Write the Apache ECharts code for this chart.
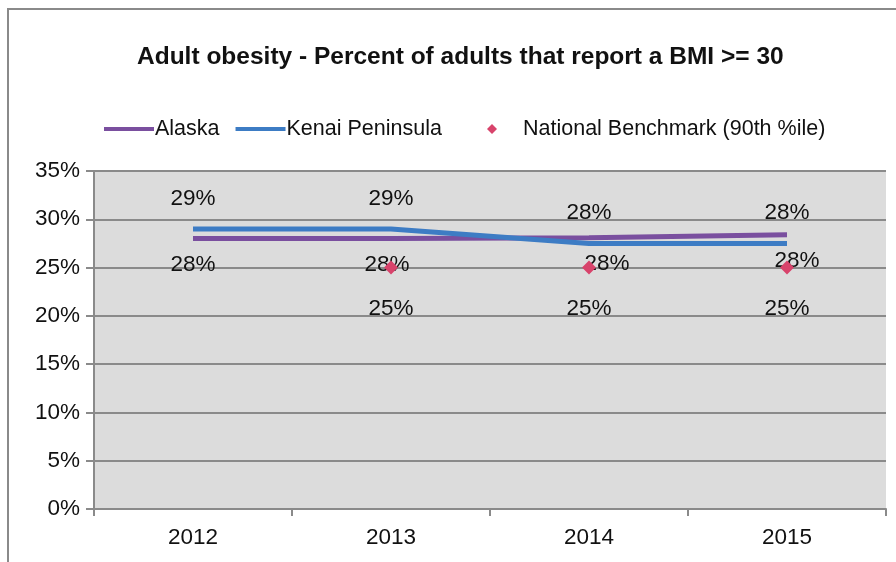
<!DOCTYPE html>
<html>
<head>
<meta charset="utf-8">
<script src="https://cdn.jsdelivr.net/npm/echarts@6/dist/echarts.min.js"></script>
<style>
  html, body { margin: 0; padding: 0; background: #ffffff; }
  #chart { width: 896px; height: 562px; }
</style>
</head>
<body>
<div id="chart"></div>
<script>
// Adult obesity rates by year
const years = ['2012', '2013', '2014', '2015'];
const alaska = [28.0, 28.0, 28.1, 28.4];
const kenai = [29.0, 29.0, 27.5, 27.5];
const benchmark = [null, 25, 25, 25];
const yTicks = { min: 0, max: 35, step: 5 };

// horizontal nudges for the Alaska value labels
const alaskaLabelShift = [0, -4, 18, 10];

const FONT = 'Liberation Sans, Arial, sans-serif';
const pct = v => Math.round(v) + '%';

const chart = echarts.init(document.getElementById('chart'), null, { renderer: 'canvas' });

chart.setOption({
  animation: false,
  backgroundColor: '#ffffff',
  title: {
    text: 'Adult obesity - Percent of adults that report a BMI >= 30',
    left: 132,
    top: 40,
    textStyle: { fontFamily: FONT, fontWeight: 'bold', fontSize: 24.5, color: '#111' }
  },
  graphic: [
    { type: 'polyline', shape: { points: [[8, 562], [8, 9], [896, 9]] }, style: { stroke: '#8a8a8a', lineWidth: 2, fill: null }, z: 10 }
  ],
  legend: [
    {
      data: ['Alaska', 'Kenai Peninsula'],
      left: 99, top: 113,
      icon: 'rect',
      itemWidth: 50, itemHeight: 4, itemGap: 16,
      textStyle: { fontFamily: FONT, fontSize: 21.5, color: '#111', padding: [0, 0, 0, -4] }
    },
    {
      data: ['National Benchmark (90th %ile)'],
      left: 482, top: 113,
      icon: 'diamond',
      itemWidth: 10, itemHeight: 10,
      textStyle: { fontFamily: FONT, fontSize: 21.5, color: '#111', padding: [0, 0, 0, 21] }
    }
  ],
  grid: { left: 94, right: 10, top: 171, bottom: 53, show: true, backgroundColor: '#dcdcdc', borderWidth: 0 },
  xAxis: {
    type: 'category',
    data: years,
    boundaryGap: true,
    axisLine: { lineStyle: { color: '#8a8a8a', width: 2 } },
    axisTick: { show: true, length: 7, lineStyle: { color: '#8a8a8a', width: 2 } },
    axisLabel: { fontFamily: FONT, fontSize: 22.5, color: '#111', margin: 17 }
  },
  yAxis: {
    type: 'value',
    min: yTicks.min, max: yTicks.max, interval: yTicks.step,
    axisLine: { show: true, lineStyle: { color: '#8a8a8a', width: 2 } },
    axisTick: { show: true, length: 8, lineStyle: { color: '#8a8a8a', width: 2 } },
    axisLabel: { fontFamily: FONT, fontSize: 22.5, color: '#111', margin: 14, formatter: '{value}%' },
    splitLine: { lineStyle: { color: '#8a8a8a', width: 2 } }
  },
  series: [
    {
      name: 'Alaska',
      type: 'line',
      data: alaska.map((v, i) => ({ value: v, label: { offset: [alaskaLabelShift[i], 0] } })),
      color: '#7a4f9f',
      lineStyle: { width: 5, color: '#7a4f9f' },
      symbol: 'circle', symbolSize: 0.1,
      label: { show: true, position: 'bottom', distance: 15, formatter: p => pct(p.value), fontFamily: FONT, fontSize: 22.5, color: '#111' },
      z: 3
    },
    {
      name: 'Kenai Peninsula',
      type: 'line',
      data: kenai,
      color: '#3d7cc4',
      lineStyle: { width: 5, color: '#3d7cc4' },
      symbol: 'circle', symbolSize: 0.1,
      label: { show: true, position: 'top', distance: 19, formatter: p => pct(p.value), fontFamily: FONT, fontSize: 22.5, color: '#111' },
      z: 4
    },
    {
      name: 'National Benchmark (90th %ile)',
      type: 'scatter',
      data: benchmark,
      symbol: 'diamond',
      symbolSize: 14,
      itemStyle: { color: '#d8436b', opacity: 1 },
      label: { show: true, position: 'bottom', distance: 23, formatter: p => pct(p.value), fontFamily: FONT, fontSize: 22.5, color: '#111' },
      z: 5
    }
  ]
});
</script>
</body>
</html>
